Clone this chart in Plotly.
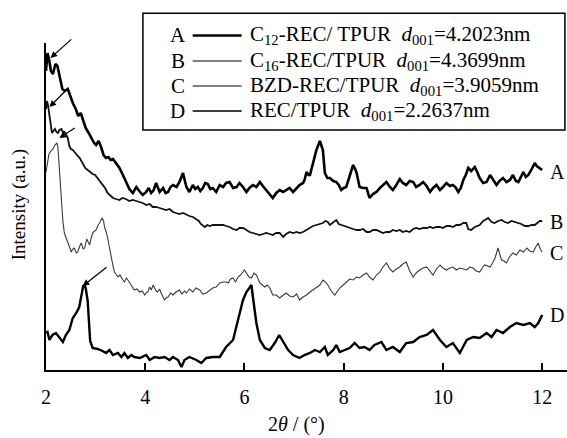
import plotly.graph_objects as go

# ---------------- data (2theta in degrees, intensity in arbitrary units) -------------
a_x = [2.00, 2.03, 2.06, 2.10, 2.14, 2.19, 2.23, 2.28, 2.33, 2.38, 2.44, 2.49, 2.54, 2.60, 2.65,
       2.70, 2.75, 2.80, 2.86, 2.92, 2.97, 3.01, 3.06, 3.11, 3.16, 3.21, 3.26, 3.30, 3.35, 3.41,
       3.48, 3.55, 3.62, 3.68, 3.75, 3.82, 3.88, 3.95, 4.02, 4.07, 4.12, 4.17, 4.22, 4.29, 4.36,
       4.41, 4.46, 4.51, 4.56, 4.63, 4.69, 4.76, 4.80, 4.83, 4.89, 4.96, 5.01, 5.06, 5.11, 5.16,
       5.21, 5.26, 5.31, 5.36, 5.43, 5.50, 5.57, 5.63, 5.70, 5.77, 5.84, 5.90, 5.97, 6.04, 6.10,
       6.17, 6.24, 6.31, 6.37, 6.44, 6.51, 6.57, 6.64, 6.71, 6.78, 6.84, 6.91, 6.98, 7.05, 7.11,
       7.18, 7.21, 7.25, 7.29, 7.32, 7.38, 7.45, 7.52, 7.55, 7.58, 7.62, 7.67, 7.72, 7.79, 7.85,
       7.90, 7.95, 8.00, 8.05, 8.12, 8.19, 8.23, 8.26, 8.32, 8.39, 8.46, 8.52, 8.59, 8.66, 8.73,
       8.79, 8.86, 8.93, 8.99, 9.06, 9.13, 9.19, 9.26, 9.33, 9.40, 9.46, 9.53, 9.60, 9.67, 9.74,
       9.80, 9.87, 9.94, 10.00, 10.07, 10.14, 10.20, 10.25, 10.31, 10.36, 10.41, 10.46, 10.51,
       10.57, 10.64, 10.69, 10.74, 10.81, 10.88, 10.95, 11.01, 11.08, 11.14, 11.21, 11.28, 11.35,
       11.41, 11.47, 11.52, 11.57, 11.62, 11.67, 11.72, 11.78, 11.85, 11.89, 11.92, 11.96, 12.00]
a_y = [300, 318, 312, 300, 297, 307, 305, 295, 282, 280, 282, 275, 268, 262, 255,
       258, 250, 243, 238, 232, 228, 226, 230, 224, 216, 213, 214, 211, 212, 208,
       203, 196, 189, 182, 178, 184, 180, 176, 179, 183, 178, 181, 188, 179, 183,
       178, 179, 184, 186, 184, 189, 198, 190, 184, 179, 186, 182, 184, 180, 183,
       188, 187, 182, 183, 179, 186, 184, 188, 189, 183, 184, 188, 184, 179, 183,
       186, 184, 189, 185, 181, 176, 173, 178, 181, 179, 181, 183, 179, 183, 186,
       188, 191, 199, 196, 196, 208, 221, 230, 226, 221, 198, 193, 193, 190, 189,
       186, 181, 183, 184, 196, 206, 202, 198, 184, 183, 183, 173, 177, 179, 183,
       186, 189, 184, 181, 186, 192, 188, 186, 190, 189, 184, 186, 189, 185, 179,
       183, 186, 181, 184, 188, 185, 186, 184, 179, 183, 191, 196, 203,
       200, 204, 199, 193, 188, 189, 196, 191, 186, 190, 193, 189, 191,
       196, 190, 189, 194, 199, 194, 196, 201, 208, 205, 204, 203, 201]

b_x = [2.00, 2.02, 2.04, 2.06, 2.09, 2.12, 2.15, 2.18, 2.21, 2.24, 2.27, 2.31, 2.34, 2.37, 2.41,
       2.44, 2.47, 2.50, 2.54, 2.57, 2.61, 2.64, 2.68, 2.71, 2.74, 2.79, 2.84, 2.89, 2.94, 2.99,
       3.04, 3.09, 3.14, 3.19, 3.24, 3.30, 3.35, 3.41, 3.48, 3.54, 3.61, 3.68, 3.75, 3.82, 3.89,
       3.95, 4.02, 4.09, 4.15, 4.22, 4.29, 4.36, 4.42, 4.49, 4.56, 4.62, 4.69, 4.76, 4.83, 4.89,
       4.96, 5.03, 5.08, 5.12, 5.16, 5.20, 5.25, 5.30, 5.36, 5.43, 5.50, 5.57, 5.63, 5.70, 5.77,
       5.84, 5.90, 5.97, 6.04, 6.10, 6.17, 6.24, 6.31, 6.37, 6.44, 6.51, 6.57, 6.64, 6.71, 6.78,
       6.84, 6.91, 6.98, 7.05, 7.11, 7.18, 7.25, 7.32, 7.38, 7.45, 7.52, 7.58, 7.63, 7.68, 7.72,
       7.78, 7.85, 7.90, 7.95, 8.00, 8.05, 8.12, 8.19, 8.26, 8.32, 8.39, 8.46, 8.52, 8.59, 8.66,
       8.73, 8.79, 8.86, 8.93, 8.99, 9.06, 9.13, 9.19, 9.26, 9.33, 9.40, 9.46, 9.53, 9.60, 9.67,
       9.74, 9.80, 9.87, 9.94, 10.00, 10.07, 10.14, 10.20, 10.27, 10.34, 10.41, 10.47, 10.51,
       10.57, 10.64, 10.74, 10.81, 10.88, 10.91, 10.98, 11.04, 11.11, 11.18, 11.25, 11.31, 11.38,
       11.45, 11.52, 11.58, 11.65, 11.72, 11.79, 11.85, 11.90, 11.95, 12.00]
b_y = [262, 270, 266, 259, 245, 238, 240, 242, 239, 238, 241, 242, 239, 239, 236,
       233, 225, 222, 221, 219, 217, 215, 213, 210, 208, 203, 201, 199, 197, 196,
       193, 190, 187, 183, 178, 175, 173, 172, 171, 173, 172, 170, 171, 170, 169,
       168, 166, 167, 164, 164, 163, 162, 161, 162, 159, 158, 157, 158, 156, 155,
       154, 152, 150, 147, 145, 144, 146, 145, 146, 146, 146, 146, 145, 144, 142,
       141, 143, 143, 141, 139, 138, 137, 136, 137, 138, 137, 136, 138, 138, 134,
       137, 139, 138, 139, 138, 139, 141, 143, 145, 146, 147, 148, 150, 149, 146,
       148, 151, 147, 146, 145, 144, 143, 142, 141, 141, 142, 139, 139, 141, 141,
       139, 138, 139, 139, 141, 140, 141, 139, 140, 139, 142, 143, 142, 143, 143,
       144, 143, 144, 144, 143, 145, 145, 144, 146, 146, 148, 148, 142,
       141, 144, 146, 150, 152, 153, 149, 148, 150, 151, 149, 148, 150,
       149, 148, 147, 145, 145, 146, 146, 148, 150, 150]

c_x = [2.00, 2.03, 2.06, 2.10, 2.14, 2.18, 2.22, 2.24, 2.26, 2.28, 2.30, 2.32, 2.34, 2.37, 2.41,
       2.44, 2.48, 2.51, 2.54, 2.57, 2.61, 2.64, 2.68, 2.71, 2.75, 2.78, 2.82, 2.85, 2.88, 2.91,
       2.94, 2.98, 3.01, 3.05, 3.08, 3.13, 3.16, 3.18, 3.22, 3.25, 3.28, 3.32, 3.35, 3.38, 3.42,
       3.45, 3.49, 3.52, 3.55, 3.58, 3.62, 3.65, 3.69, 3.72, 3.75, 3.78, 3.83, 3.89, 3.94, 3.99,
       4.02, 4.05, 4.09, 4.12, 4.16, 4.19, 4.22, 4.25, 4.29, 4.32, 4.36, 4.39, 4.42, 4.46, 4.51,
       4.56, 4.62, 4.69, 4.74, 4.79, 4.83, 4.89, 4.96, 5.02, 5.10, 5.16, 5.23, 5.30, 5.36, 5.43,
       5.50, 5.57, 5.63, 5.67, 5.72, 5.77, 5.82, 5.87, 5.92, 5.97, 6.00, 6.04, 6.09, 6.14, 6.19,
       6.24, 6.31, 6.36, 6.41, 6.46, 6.51, 6.57, 6.64, 6.71, 6.78, 6.84, 6.91, 6.98, 7.05, 7.11,
       7.18, 7.25, 7.32, 7.38, 7.45, 7.52, 7.58, 7.63, 7.68, 7.75, 7.82, 7.88, 7.92, 7.99, 8.05,
       8.12, 8.19, 8.26, 8.32, 8.39, 8.46, 8.52, 8.59, 8.66, 8.73, 8.79, 8.86, 8.93, 8.99, 9.06,
       9.13, 9.19, 9.26, 9.33, 9.40, 9.46, 9.53, 9.60, 9.67, 9.74, 9.80, 9.87, 9.94, 10.00, 10.07,
       10.14, 10.20, 10.27, 10.34, 10.41, 10.48, 10.54, 10.61, 10.67, 10.74, 10.79, 10.84, 10.90,
       10.95, 11.00, 11.05, 11.11, 11.15, 11.18, 11.23, 11.28, 11.34, 11.41, 11.48, 11.55, 11.62,
       11.69, 11.75, 11.82, 11.87, 11.92, 11.96, 12.00]
c_y = [199, 210, 217, 220, 222, 226, 228, 224, 208, 192, 176, 162, 150, 138, 132,
       129, 122, 119, 122, 123, 118, 119, 125, 128, 122, 123, 132, 128, 126, 133,
       138, 140, 141, 146, 148, 153, 150, 144, 138, 131, 122, 113, 105, 99, 96,
       94, 96, 93, 91, 89, 93, 91, 88, 86, 84, 81, 82, 79, 80, 76,
       78, 79, 84, 81, 86, 83, 80, 79, 82, 78, 74, 71, 73, 74, 78,
       76, 79, 81, 77, 80, 78, 82, 79, 83, 81, 77, 78, 81, 83, 84,
       88, 89, 89, 88, 92, 93, 89, 94, 96, 99, 101, 98, 94, 93, 98,
       96, 88, 86, 84, 86, 83, 76, 76, 73, 76, 78, 75, 74, 77, 71,
       74, 76, 79, 81, 84, 86, 91, 89, 86, 80, 76, 81, 83, 86, 89,
       92, 91, 94, 93, 96, 98, 94, 91, 96, 99, 104, 108, 102, 99, 102,
       104, 107, 109, 100, 94, 98, 101, 103, 104, 100, 96, 102, 106, 103, 101,
       103, 104, 101, 103, 102, 101, 104, 103, 100, 99, 103, 106, 105,
       104, 108, 113, 123, 116, 111, 110, 108, 114, 118, 116, 121, 119,
       123, 120, 119, 124, 128, 122, 119]

d_x = [2.00, 2.03, 2.07, 2.13, 2.20, 2.27, 2.34, 2.40, 2.47, 2.54, 2.61, 2.67, 2.72, 2.75, 2.78,
       2.80, 2.84, 2.86, 2.89, 2.94, 3.04, 3.14, 3.21, 3.28, 3.35, 3.45, 3.52, 3.58, 3.65, 3.72,
       3.78, 3.89, 4.02, 4.09, 4.19, 4.29, 4.39, 4.49, 4.56, 4.66, 4.73, 4.79, 4.89, 5.03, 5.13,
       5.23, 5.36, 5.50, 5.63, 5.77, 5.83, 5.90, 5.97, 6.04, 6.10, 6.14, 6.17, 6.24, 6.31, 6.41,
       6.51, 6.61, 6.70, 6.78, 6.88, 6.98, 7.11, 7.21, 7.32, 7.42, 7.52, 7.62, 7.68, 7.79, 7.85,
       7.92, 8.02, 8.12, 8.22, 8.32, 8.42, 8.52, 8.62, 8.76, 8.86, 8.99, 9.13, 9.26, 9.40, 9.53,
       9.67, 9.80, 9.94, 10.07, 10.20, 10.34, 10.48, 10.61, 10.74, 10.88, 10.98, 11.08, 11.21,
       11.35, 11.48, 11.62, 11.75, 11.85, 11.92, 12.00]
d_y = [38, 39, 31, 36, 38, 34, 29, 36, 41, 53, 58, 64, 78, 85, 86,
       83, 70, 50, 30, 23, 22, 20, 18, 21, 16, 18, 14, 18, 13, 16,
       14, 13, 16, 11, 14, 13, 14, 11, 14, 11, 4, 11, 14, 11, 8,
       13, 14, 14, 24, 31, 43, 58, 71, 79, 84, 86, 74, 48, 31, 23,
       21, 28, 36, 29, 21, 16, 13, 16, 18, 21, 19, 24, 16, 21, 26,
       19, 21, 23, 28, 23, 24, 21, 26, 29, 21, 24, 19, 28, 29, 34,
       36, 41, 31, 24, 28, 18, 31, 34, 33, 38, 34, 41, 38,
       44, 48, 46, 48, 44, 48, 56]

curve_letters = ["A", "B", "C", "D"]
legend_names = [
    "C<sub>12</sub>-REC/ TPUR\u00a0\u00a0<i>d</i><sub>001</sub>=4.2023nm",
    "C<sub>16</sub>-REC/TPUR\u00a0\u00a0<i>d</i><sub>001</sub>=4.3699nm",
    "BZD-REC/TPUR\u00a0\u00a0<i>d</i><sub>001</sub>=3.9059nm",
    "REC/TPUR\u00a0\u00a0<i>d</i><sub>001</sub>=2.2637nm",
]
end_label_y = [199, 149, 118, 56]
# arrows marking the d001 reflections: (tip x, tip y, tail x, tail y)
arrows = [(2.09, 313, 2.54, 333), (2.07, 264, 2.47, 284),
          (2.27, 233, 2.61, 244), (2.74, 85, 3.25, 105)]
x_ticks = [2, 4, 6, 8, 10, 12]

# ---------------- styling ----------------
FONT = "Liberation Serif"
series = [(a_x, a_y, 2.6, "#000000"), (b_x, b_y, 1.8, "#111111"),
          (c_x, c_y, 1.1, "#3a3a3a"), (d_x, d_y, 2.4, "#000000")]
legend_widths = [2.6, 1.2, 1.1, 1.5]

fig = go.Figure()
for (xs, ys, w, col), name in zip(series, curve_letters):
    fig.add_trace(go.Scatter(x=xs, y=ys, mode="lines", name=name,
                             line=dict(color=col, width=w), showlegend=False))

# end-of-curve letters
for letter, yy in zip(curve_letters, end_label_y):
    fig.add_annotation(x=12.12, y=yy, xref="x", yref="y", text=letter, showarrow=False,
                       xanchor="left", yanchor="middle", font=dict(family=FONT, size=20, color="black"))

# arrows
for tx, ty, sx, sy in arrows:
    fig.add_annotation(x=tx, y=ty, ax=sx, ay=sy, xref="x", yref="y", axref="x", ayref="y",
                       text="", showarrow=True, arrowhead=2, arrowsize=1.1, arrowwidth=1.2,
                       arrowcolor="black")

# custom legend box
fig.add_shape(type="rect", xref="paper", yref="paper", x0=0.186, x1=0.996, y0=0.734, y1=1.091,
              line=dict(color="black", width=1.5), fillcolor="white", layer="above")
row_y = [1.023, 0.945, 0.8685, 0.792]
for letter, name, ry, lw in zip(curve_letters, legend_names, row_y, legend_widths):
    fig.add_annotation(x=0.2526, y=ry, xref="paper", yref="paper", text=letter, showarrow=False,
                       xanchor="center", yanchor="middle", font=dict(family=FONT, size=21, color="black"))
    fig.add_shape(type="line", xref="paper", yref="paper", x0=0.2815, x1=0.3756, y0=ry, y1=ry,
                  line=dict(color="black", width=lw), layer="above")
    fig.add_annotation(x=0.3871, y=ry, xref="paper", yref="paper", text=name, showarrow=False,
                       xanchor="left", yanchor="middle", font=dict(family=FONT, size=21, color="black"))

# axis titles
fig.add_annotation(x=-0.053, y=0.505, xref="paper", yref="paper", text="Intensity (a.u.)",
                   textangle=-90, showarrow=False, xanchor="center", yanchor="middle",
                   font=dict(family=FONT, size=19, color="black"))
fig.add_annotation(x=0.481, y=-0.168, xref="paper", yref="paper", text="2<i>θ</i> / (°)",
                   showarrow=False, xanchor="center", yanchor="middle",
                   font=dict(family=FONT, size=20, color="black"))

fig.update_xaxes(range=[2, 12.5], tickvals=x_ticks, ticktext=[str(t) for t in x_ticks],
                 ticks="inside", ticklen=7, tickwidth=1.5, tickcolor="black",
                 ticklabelstandoff=8,
                 showline=True, linewidth=1.5, linecolor="black", showgrid=False, zeroline=False,
                 tickfont=dict(family=FONT, size=20, color="black"))
fig.update_yaxes(range=[1, 328], showticklabels=False, ticks="", showline=True, linewidth=1.5,
                 linecolor="black", showgrid=False, zeroline=False)

fig.update_layout(width=567, height=438, margin=dict(l=46, r=0, t=43, b=68),
                  plot_bgcolor="white", paper_bgcolor="white", showlegend=False,
                  font=dict(family=FONT, color="black"))

fig.write_html("out.html", config={"displayModeBar": False},
               post_script="document.body.style.margin='0';"
                           "document.documentElement.style.overflow='hidden';"
                           "document.body.style.overflow='hidden';")
